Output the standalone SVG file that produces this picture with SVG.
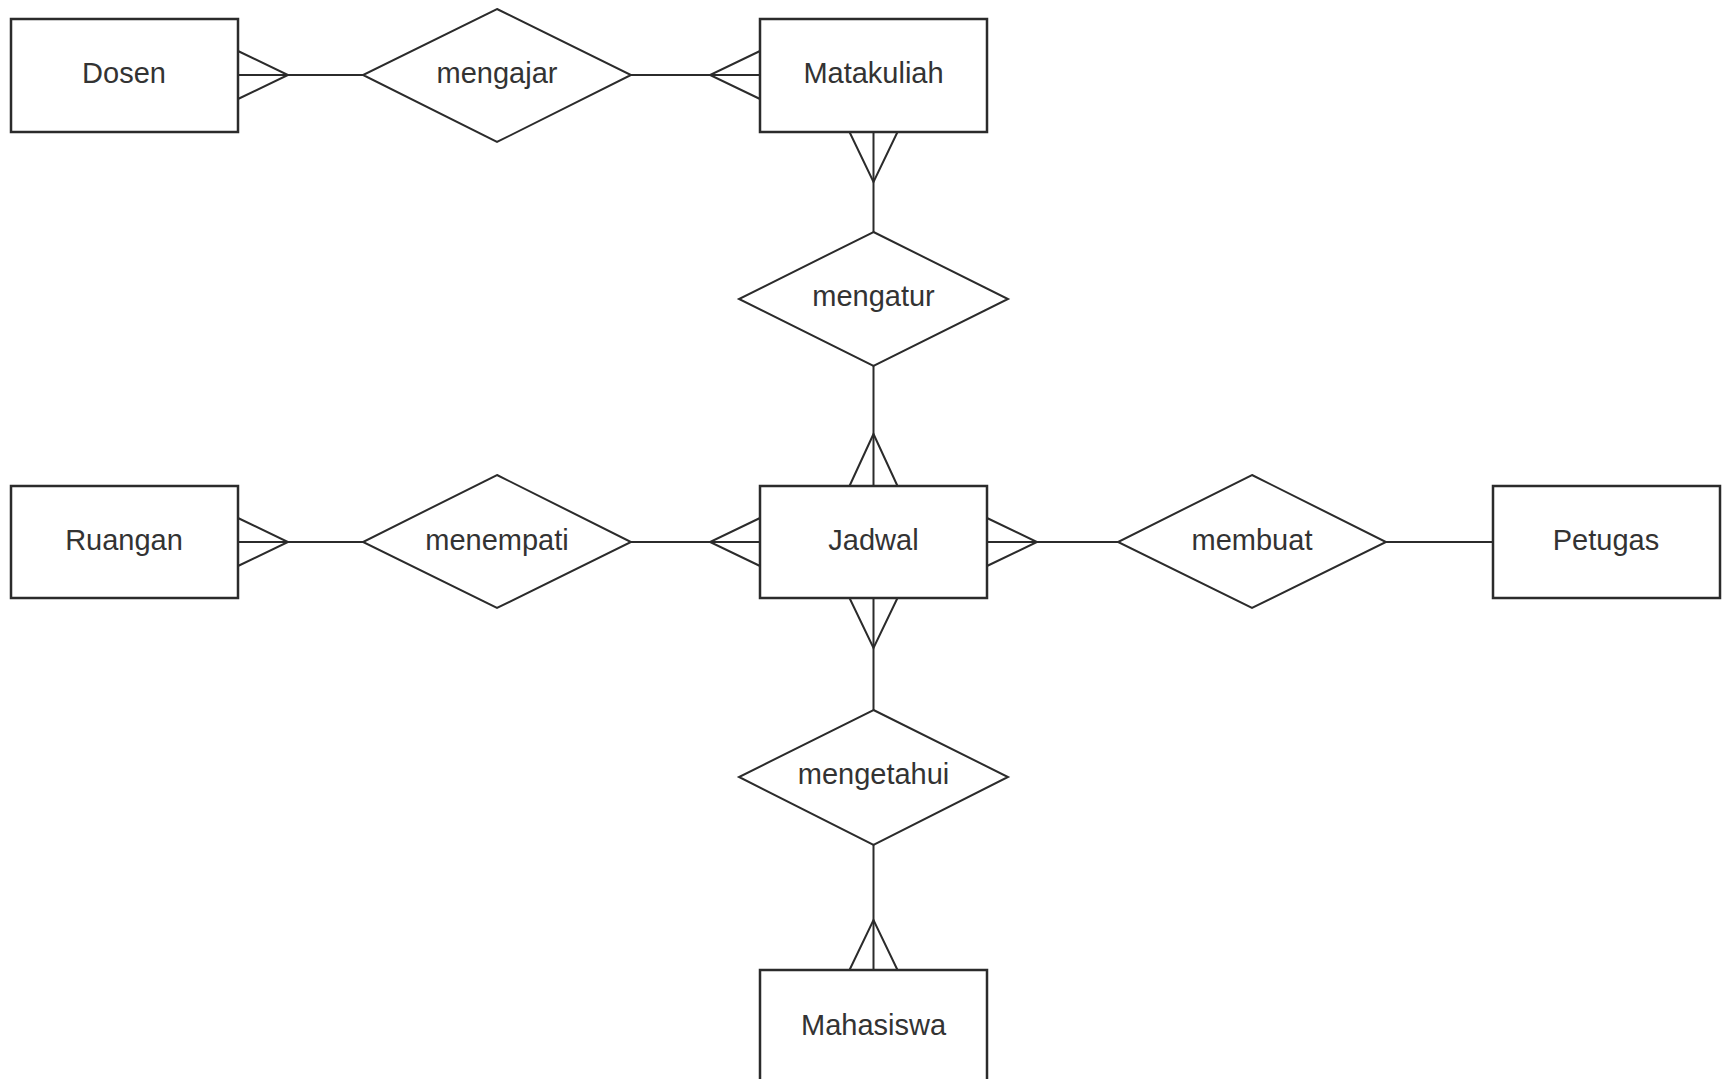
<svg xmlns="http://www.w3.org/2000/svg" width="1727" height="1079" viewBox="0 0 1727 1079">
  <style>
    .entity { fill: #ffffff; stroke: #2b2b2b; stroke-width: 2.5; }
    .relation { fill: #ffffff; stroke: #2b2b2b; stroke-width: 2; }
    .label { font-family: "Liberation Sans", Arial, sans-serif; font-size: 29px; fill: #333333; text-anchor: middle; }
    .edge { fill: none; stroke: #2b2b2b; stroke-width: 2; }
  </style>
  <rect width="1727" height="1079" fill="#ffffff"/>

  <!-- connectors with crow's-foot ends -->
  <g id="connectors" class="edge">
    <!-- Dosen - mengajar -->
    <path d="M238 75 H363"/>
    <path d="M238 51 L288 75 L238 99"/>
    <!-- mengajar - Matakuliah -->
    <path d="M631 75 H760"/>
    <path d="M760 51 L710 75 L760 99"/>
    <!-- Matakuliah - mengatur -->
    <path d="M873.5 132 V232"/>
    <path d="M849.5 132 L873.5 182 L897.5 132"/>
    <!-- mengatur - Jadwal -->
    <path d="M873.5 366 V486"/>
    <path d="M849.5 486 L873.5 434 L897.5 486"/>
    <!-- Ruangan - menempati -->
    <path d="M238 542 H363"/>
    <path d="M238 518 L288 542 L238 566"/>
    <!-- menempati - Jadwal -->
    <path d="M631 542 H760"/>
    <path d="M760 518 L710 542 L760 566"/>
    <!-- Jadwal - membuat -->
    <path d="M987 542 H1118"/>
    <path d="M987 518 L1037 542 L987 566"/>
    <!-- membuat - Petugas -->
    <path d="M1386 542 H1493"/>
    <!-- Jadwal - mengetahui -->
    <path d="M873.5 598 V710"/>
    <path d="M849.5 598 L873.5 648 L897.5 598"/>
    <!-- mengetahui - Mahasiswa -->
    <path d="M873.5 845 V970"/>
    <path d="M849.5 970 L873.5 920 L897.5 970"/>
  </g>

  <!-- entities -->
  <g id="dosen">
    <rect class="entity" x="11" y="19" width="227" height="113"/>
    <text class="label" x="124" y="83">Dosen</text>
  </g>
  <g id="matakuliah">
    <rect class="entity" x="760" y="19" width="227" height="113"/>
    <text class="label" x="873.5" y="83">Matakuliah</text>
  </g>
  <g id="ruangan">
    <rect class="entity" x="11" y="486" width="227" height="112"/>
    <text class="label" x="124" y="550">Ruangan</text>
  </g>
  <g id="jadwal">
    <rect class="entity" x="760" y="486" width="227" height="112"/>
    <text class="label" x="873.5" y="550">Jadwal</text>
  </g>
  <g id="petugas">
    <rect class="entity" x="1493" y="486" width="227" height="112"/>
    <text class="label" x="1606" y="550">Petugas</text>
  </g>
  <g id="mahasiswa">
    <rect class="entity" x="760" y="970" width="227" height="113"/>
    <text class="label" x="873.5" y="1035">Mahasiswa</text>
  </g>

  <!-- relationships -->
  <g id="mengajar">
    <polygon class="relation" points="497,9 631,75 497,142 363,75"/>
    <text class="label" x="497" y="83">mengajar</text>
  </g>
  <g id="mengatur">
    <polygon class="relation" points="873.5,232 1008,299 873.5,366 739,299"/>
    <text class="label" x="873.5" y="306">mengatur</text>
  </g>
  <g id="menempati">
    <polygon class="relation" points="497,475 631,542 497,608 363,542"/>
    <text class="label" x="497" y="550">menempati</text>
  </g>
  <g id="membuat">
    <polygon class="relation" points="1252,475 1386,542 1252,608 1118,542"/>
    <text class="label" x="1252" y="550">membuat</text>
  </g>
  <g id="mengetahui">
    <polygon class="relation" points="873.5,710 1008,777 873.5,845 739,777"/>
    <text class="label" x="873.5" y="784">mengetahui</text>
  </g>
</svg>
